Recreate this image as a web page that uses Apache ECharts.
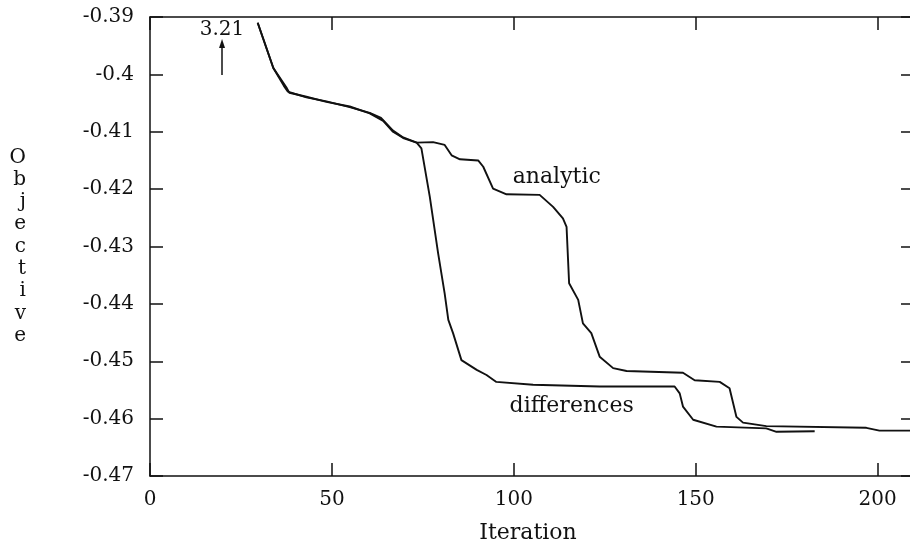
<!DOCTYPE html>
<html>
<head>
<meta charset="utf-8">
<title>Objective vs Iteration</title>
<script src="https://cdn.jsdelivr.net/npm/echarts@6/dist/echarts.min.js"></script>
<style>
  html, body { margin: 0; padding: 0; background: #fff; }
  #chart { width: 910px; height: 551px; }
</style>
</head>
<body>
<div id="chart"></div>
<script>
// data
var analyticIter = [29.6, 33.9, 37.6, 38.3, 43.0, 48.5, 54.9, 60.4, 64.1, 66.8, 69.6, 73.3, 77.8, 81.0, 82.9, 85.2, 90.2, 91.6, 94.3, 98.0, 107.1, 110.8, 113.5, 114.5, 115.2, 117.7, 119.0, 121.3, 123.6, 127.3, 131.0, 146.5, 149.7, 156.6, 159.3, 161.2, 163.0, 169.4, 196.9, 200.5, 210];
var analyticObj = [-0.3910, -0.3989, -0.4024, -0.4032, -0.4039, -0.4048, -0.4056, -0.4068, -0.4081, -0.4100, -0.4111, -0.4119, -0.4118, -0.4123, -0.4141, -0.4148, -0.4150, -0.4161, -0.4199, -0.4209, -0.4210, -0.4231, -0.4251, -0.4266, -0.4364, -0.4393, -0.4434, -0.4451, -0.4492, -0.4512, -0.4517, -0.4520, -0.4533, -0.4536, -0.4547, -0.4597, -0.4607, -0.4613, -0.4616, -0.4621, -0.4621];

var diffIter = [29.6, 33.9, 36.8, 37.9, 43.0, 48.5, 54.9, 60.4, 63.5, 66.8, 69.6, 73.3, 74.6, 76.9, 79.2, 81.0, 82.0, 83.3, 85.6, 89.8, 92.5, 95.2, 105.3, 123.6, 144.2, 145.6, 146.5, 149.3, 155.7, 169.4, 172.2, 182.7];
var diffObj = [-0.3910, -0.3989, -0.4020, -0.4030, -0.4040, -0.4047, -0.4057, -0.4067, -0.4076, -0.4098, -0.4110, -0.4119, -0.4129, -0.4213, -0.4312, -0.4382, -0.4428, -0.4451, -0.4498, -0.4515, -0.4524, -0.4536, -0.4541, -0.4544, -0.4544, -0.4556, -0.4579, -0.4602, -0.4614, -0.4617, -0.4623, -0.4622];

var xTicks = [0, 50, 100, 150, 200];
var yTicks = [-0.47, -0.46, -0.45, -0.44, -0.43, -0.42, -0.41, -0.4, -0.39];

// off-scale start value and its arrow
var startIter = 19.8;
var startLabel = '3.21';

function pairs(xs, ys) {
    return xs.map(function (x, i) { return [x, ys[i]]; });
}

var font = 'DejaVu Serif';
var black = '#111';

var myChart = echarts.init(document.getElementById('chart'));

var axisCommon = {
    axisLine: { show: true, onZero: false, lineStyle: { color: black, width: 1.5 } },
    axisTick: { show: true, inside: true, length: 13, lineStyle: { color: black, width: 1.5 } },
    splitLine: { show: false },
    axisLabel: { color: black, fontFamily: font, fontSize: 20, showMinLabel: true, showMaxLabel: true }
};

var option = {
    animation: false,
    backgroundColor: '#fff',
    grid: { left: 150, top: 17, bottom: 75, width: 764, containLabel: false, outerBoundsMode: 'none' },
    xAxis: [
        Object.assign({}, axisCommon, {
            type: 'value', min: xTicks[0], max: 210, interval: 50,
            name: 'Iteration', nameLocation: 'middle', nameGap: 46,
            nameTextStyle: { color: black, fontFamily: font, fontSize: 22, padding: [0, 8, 0, 0] },
            axisLabel: Object.assign({}, axisCommon.axisLabel, { margin: 14, showMaxLabel: false })
        }),
        Object.assign({}, axisCommon, {
            type: 'value', position: 'top', min: xTicks[0], max: 210, interval: 50,
            axisLabel: { show: false }
        })
    ],
    yAxis: [
        Object.assign({}, axisCommon, {
            type: 'value', min: yTicks[0], max: yTicks[yTicks.length - 1], interval: 0.01,
            name: 'O\nb\nj\ne\nc\nt\ni\nv\ne', nameLocation: 'middle', nameRotate: 0, nameGap: 124,
            nameTextStyle: { color: black, fontFamily: font, fontSize: 20, lineHeight: 22.3 },
            axisLabel: Object.assign({}, axisCommon.axisLabel, { margin: 16 })
        }),
        Object.assign({}, axisCommon, {
            type: 'value', position: 'right', min: yTicks[0], max: yTicks[yTicks.length - 1], interval: 0.01,
            axisLabel: { show: false }
        })
    ],
    series: [
        {
            name: 'analytic',
            type: 'line',
            data: pairs(analyticIter, analyticObj),
            showSymbol: false,
            symbol: 'none',
            clip: true,
            lineStyle: { color: black, width: 1.9 },
            markPoint: {
                silent: true,
                symbol: 'circle',
                symbolSize: 0,
                label: { show: true, position: 'inside', color: black, fontFamily: font, fontSize: 22, formatter: '{b}' },
                data: [
                    { name: 'analytic', coord: [111.8, -0.4179] },
                    { name: 'differences', coord: [115.9, -0.4578] },
                    { name: startLabel, coord: [startIter, -0.3922], label: { fontSize: 20 } }
                ]
            },
            markLine: {
                silent: true,
                symbol: ['none', 'triangle'],
                symbolSize: [6, 9],
                label: { show: false },
                lineStyle: { color: black, width: 1.5, type: 'solid' },
                data: [[{ coord: [startIter, -0.4001] }, { coord: [startIter, -0.3946] }]]
            }
        },
        {
            name: 'differences',
            type: 'line',
            data: pairs(diffIter, diffObj),
            showSymbol: false,
            symbol: 'none',
            clip: true,
            lineStyle: { color: black, width: 1.9 }
        }
    ]
};

myChart.setOption(option);
window.addEventListener('resize', function () {
    myChart.resize();
});
</script>
</body>
</html>
